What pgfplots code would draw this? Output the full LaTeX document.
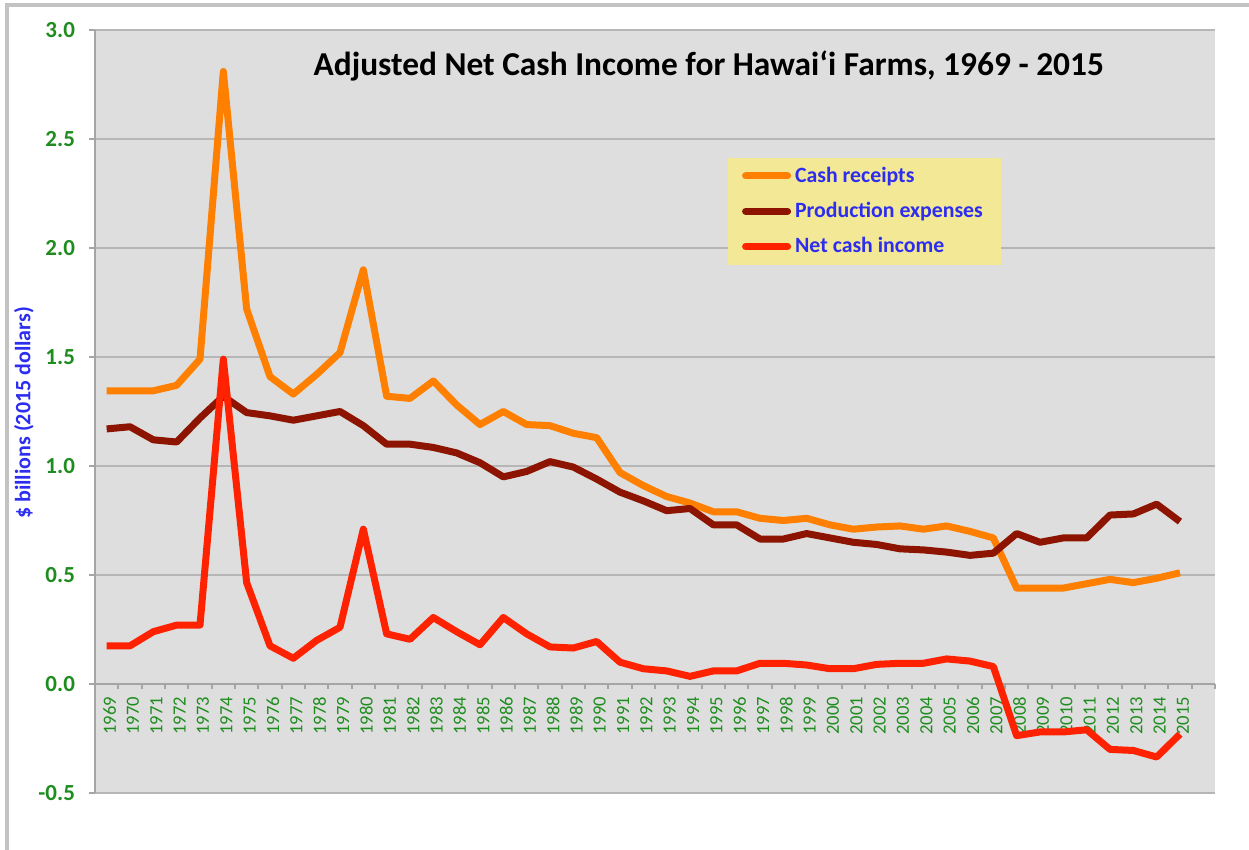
\documentclass[border=0pt]{standalone}
\usepackage{pgfplots}
\pgfplotsset{compat=1.18}
\usepackage{pgfplotstable}
\usepackage{fontspec}
\setmainfont{Carlito}
\definecolor{cr}{RGB}{255,128,0}
\definecolor{pe}{RGB}{140,20,0}
\definecolor{nc}{RGB}{255,34,0}
\definecolor{tickgreen}{RGB}{30,140,30}
\definecolor{lblue}{RGB}{45,45,240}
\definecolor{bg}{RGB}{222,222,222}
\definecolor{gridc}{RGB}{182,182,182}
\definecolor{axc}{RGB}{165,165,165}
\definecolor{legbg}{RGB}{243,232,150}
\definecolor{framec}{RGB}{195,195,195}

\pgfplotstableread{
i R E N
0 1.345 1.17 0.175
1 1.345 1.18 0.175
2 1.345 1.12 0.24
3 1.37 1.11 0.27
4 1.49 1.22 0.27
5 2.81 1.32 1.49
6 1.72 1.245 0.465
7 1.41 1.23 0.175
8 1.33 1.21 0.118
9 1.42 1.23 0.20
10 1.52 1.25 0.26
11 1.90 1.185 0.71
12 1.32 1.10 0.23
13 1.31 1.10 0.205
14 1.39 1.085 0.305
15 1.28 1.06 0.24
16 1.19 1.015 0.18
17 1.25 0.95 0.305
18 1.19 0.975 0.23
19 1.185 1.02 0.17
20 1.15 0.995 0.165
21 1.13 0.94 0.195
22 0.97 0.88 0.10
23 0.91 0.84 0.07
24 0.86 0.795 0.06
25 0.83 0.805 0.035
26 0.79 0.73 0.06
27 0.79 0.73 0.06
28 0.76 0.665 0.095
29 0.75 0.665 0.095
30 0.76 0.69 0.087
31 0.73 0.67 0.07
32 0.71 0.65 0.07
33 0.72 0.64 0.09
34 0.725 0.62 0.095
35 0.71 0.615 0.095
36 0.725 0.605 0.115
37 0.70 0.59 0.105
38 0.67 0.60 0.08
39 0.44 0.69 -0.237
40 0.44 0.65 -0.22
41 0.44 0.67 -0.22
42 0.46 0.67 -0.21
43 0.48 0.775 -0.30
44 0.465 0.78 -0.305
45 0.485 0.825 -0.335
46 0.51 0.745 -0.23
}\data

\begin{document}
\begin{tikzpicture}
\useasboundingbox (-47.5pt,-28.5pt) rectangle (577pt,396.5pt);
\draw[framec, line width=1.6pt] (-44pt,-40pt) -- (-44pt,394pt) -- (590pt,394pt);
\begin{axis}[
  at={(0,0)}, anchor=south west,
  scale only axis, width=560pt, height=381.5pt,
  xmin=-0.5, xmax=47.5, ymin=-0.5, ymax=3,
  axis x line*=middle, axis y line*=left,
  axis line style={draw=axc, line width=1pt},
  axis background/.style={fill=bg},
  ymajorgrids, grid style={draw=gridc, line width=1.2pt},
  ytick={-0.5,0,0.5,1,1.5,2,2.5,3},
  xtick={0,...,46},
  xticklabels={1969,1970,1971,1972,1973,1974,1975,1976,1977,1978,1979,1980,1981,1982,1983,1984,1985,1986,1987,1988,1989,1990,1991,1992,1993,1994,1995,1996,1997,1998,1999,2000,2001,2002,2003,2004,2005,2006,2007,2008,2009,2010,2011,2012,2013,2014,2015},
  minor xtick={-0.5,0.5,...,47.5},
  tick align=outside,
  major tick length=3pt, minor tick length=2.5pt,
  major x tick style={draw=none},
  minor x tick style={draw=axc, line width=1pt},
  major y tick style={draw=axc, line width=1pt},
  /pgf/number format/assume math mode=true,
  yticklabel style={/pgf/number format/fixed, /pgf/number format/fixed zerofill, /pgf/number format/precision=1,
    font=\fontsize{11.5}{13}\selectfont\bfseries, text=tickgreen, xshift=-3.5pt},
  xticklabel style={rotate=90, anchor=east, font=\fontsize{9.3}{10}\selectfont, text=tickgreen, yshift=-1.5pt},
  ylabel={\$ billions (2015 dollars)},
  ylabel style={at={(axis description cs:-0.0636,0.498)}, anchor=center, font=\fontsize{11}{13}\selectfont\bfseries, text=lblue},
  title={Adjusted Net Cash Income for Hawai‘i Farms, 1969 - 2015},
  title style={at={(axis description cs:0.548,0.937)}, anchor=center, font=\fontsize{16.7}{19}\selectfont\bfseries},
  legend cell align=left,
  legend style={at={(axis description cs:0.5649,0.833)}, anchor=north west, fill=legbg, draw=none,
    font=\fontsize{10.9}{13}\selectfont\bfseries, text=lblue, inner xsep=7pt, inner ysep=2.5pt, row sep=4.5pt},
  legend image code/.code={\draw[#1, line width=3.5pt, line cap=round] (0pt,0pt) -- (21pt,0pt);},
  no markers,
]
\addplot[cr, line width=3.5pt, line join=round] table[x=i,y=R]{\data};
\addlegendentry{Cash receipts}
\addplot[pe, line width=3.5pt, line join=round] table[x=i,y=E]{\data};
\addlegendentry{Production expenses}
\addplot[nc, line width=3.5pt, line join=round] table[x=i,y=N]{\data};
\addlegendentry{Net cash income}
\end{axis}
\end{tikzpicture}
\end{document}
